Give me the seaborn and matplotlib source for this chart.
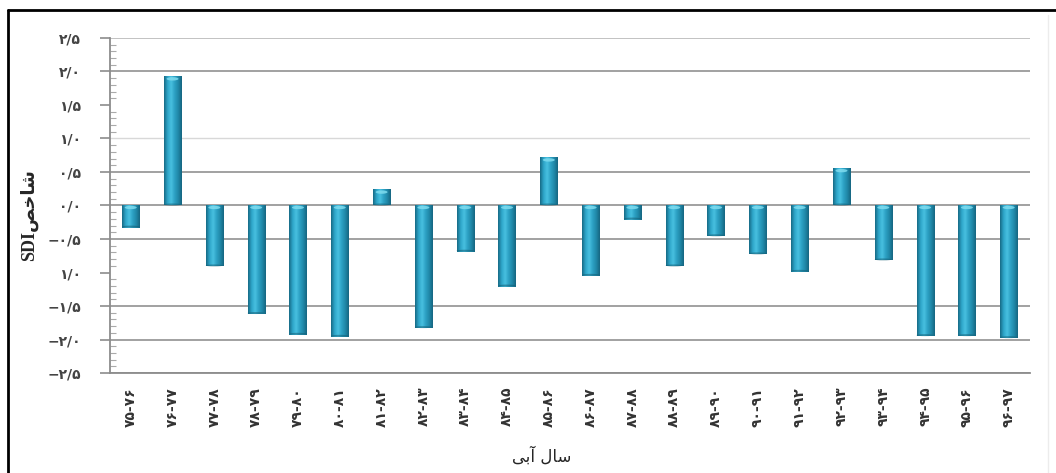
import numpy as np
import pandas as pd
import matplotlib
matplotlib.use('Agg')
import matplotlib.pyplot as plt
import seaborn as sns
from matplotlib.colors import LinearSegmentedColormap
from matplotlib.patches import Ellipse
from matplotlib.lines import Line2D
from matplotlib.ticker import MultipleLocator


# water years (Persian digits) and SDI values
years = ['۷۵-۷۶', '۷۶-۷۷', '۷۷-۷۸', '۷۸-۷۹', '۷۹-۸۰', '۸۰-۸۱', '۸۱-۸۲', '۸۲-۸۳',
         '۸۳-۸۴', '۸۴-۸۵', '۸۵-۸۶', '۸۶-۸۷', '۸۷-۸۸', '۸۸-۸۹', '۸۹-۹۰', '۹۰-۹۱',
         '۹۱-۹۲', '۹۲-۹۳', '۹۳-۹۴', '۹۴-۹۵', '۹۵-۹۶', '۹۶-۹۷']
sdi = [-0.33, 1.92, -0.91, -1.62, -1.93, -1.96, 0.23, -1.83,
       -0.69, -1.21, 0.71, -1.05, -0.21, -0.91, -0.46, -0.73,
       -0.99, 0.55, -0.82, -1.95, -1.95, -1.98]

# y tick labels as printed on the original (note the -1.0 label has no minus sign)
ytick_vals = [2.5, 2.0, 1.5, 1.0, 0.5, 0.0, -0.5, -1.0, -1.5, -2.0, -2.5]
ytick_text = ['۲/۵', '۲/۰', '۱/۵', '۱/۰', '۰/۵', '۰/۰', '−۰/۵', '۱/۰', '−۱/۵', '−۲/۰', '−۲/۵']

# Persian titles written in presentation forms (visual order) so they join properly
xlab = '\ufef0\ufe91\ufe81 \ufedd\ufe8e\ufeb3'      # سال آبی
ylab = 'SDI' + '\ufeba\ufea7\ufe8e\ufeb7'           # شاخص SDI

df = pd.DataFrame({'year': years, 'sdi': sdi})

sns.set_style('white')
plt.rcParams['font.family'] = ['DejaVu Sans']

fig = plt.figure(figsize=(10.56, 4.73), dpi=100)
ax = fig.add_axes([0.104, 0.2114, 0.871, 0.7083])

sns.barplot(data=df, x='year', y='sdi', color='#2a9bbf', width=0.41,
            ax=ax, zorder=3, errorbar=None)

# cylinder-ish shading on each bar
cyl = LinearSegmentedColormap.from_list('cyl', ['#176b86', '#2ea6c9', '#48c0e0',
                                                 '#2ca0c3', '#2088a8', '#166681'])
grad = np.linspace(0, 1, 64).reshape(1, -1)
for p in list(ax.patches):
    x0 = p.get_x()
    w = p.get_width()
    ya = p.get_y()
    yb = ya + p.get_height()
    lo, hi = min(ya, yb), max(ya, yb)
    p.set_facecolor('none')
    p.set_edgecolor('none')
    ax.imshow(grad, extent=[x0, x0 + w, lo, hi], aspect='auto', cmap=cyl,
              zorder=3, interpolation='bilinear')
    ax.add_patch(Ellipse((x0 + w / 2, hi - 0.03), w * 0.7, 0.05,
                         facecolor='#7fdcef', edgecolor='none', zorder=4, alpha=0.85))
    ax.add_patch(Ellipse((x0 + w / 2, lo + 0.015), w, 0.03,
                         facecolor='#135a70', edgecolor='none', zorder=4, alpha=0.5))

ax.set_ylim(-2.5, 2.5)
ax.set_xlim(-0.5, len(years) - 0.5)

ax.set_yticks(ytick_vals)
ax.set_yticklabels(ytick_text, fontsize=10, fontweight='bold', color='#444444')
ax.yaxis.set_minor_locator(MultipleLocator(0.1))
ax.tick_params(axis='y', which='major', length=7, color='#8c8c8c', width=1.2,
               pad=14, left=True)
ax.tick_params(axis='y', which='minor', length=4, color='#aaaaaa', width=0.8,
               direction='in', left=True)
ax.set_xticks(range(len(years)))
ax.set_xticklabels(years, rotation=90, fontsize=10, fontweight='bold', color='#333333')
ax.tick_params(axis='x', length=0, pad=10)

ax.yaxis.grid(True, color='#9a9a9a', linewidth=1.3, zorder=1)
ax.set_axisbelow(True)
for val, gl in zip(ytick_vals, ax.get_ygridlines()):
    if val == 2.5:
        gl.set_color('#bdbdbd')
    if val == 1.0:
        gl.set_color('#d8d8d8')
        gl.set_linewidth(1.0)
    if val in (1.5, -1.0):
        gl.set_visible(False)

for s in ['top', 'right']:
    ax.spines[s].set_visible(False)
ax.spines['left'].set_color('#8c8c8c')
ax.spines['left'].set_linewidth(1.3)
ax.spines['bottom'].set_color('#8c8c8c')
ax.spines['bottom'].set_linewidth(1.3)

ax.set_xlabel(xlab, fontsize=12)
ax.xaxis.set_label_coords(0.47, -0.22)
ax.set_ylabel(ylab, fontsize=13, fontweight='bold',
              family=['Liberation Serif', 'DejaVu Sans'])
ax.yaxis.set_label_coords(-0.078, 0.47)

# outer frame like the original image
fx = 8 / 1056
fy = 1 - 10 / 473
fig.add_artist(Line2D([fx, 1], [fy, fy], color='black', linewidth=2, transform=fig.transFigure))
fig.add_artist(Line2D([fx, fx], [0, fy], color='black', linewidth=2, transform=fig.transFigure))
fig.add_artist(Line2D([1048 / 1056, 1048 / 1056], [0, fy - 0.01], color='#ececec',
                      linewidth=1, transform=fig.transFigure))

fig.savefig('out.png', dpi=100)
